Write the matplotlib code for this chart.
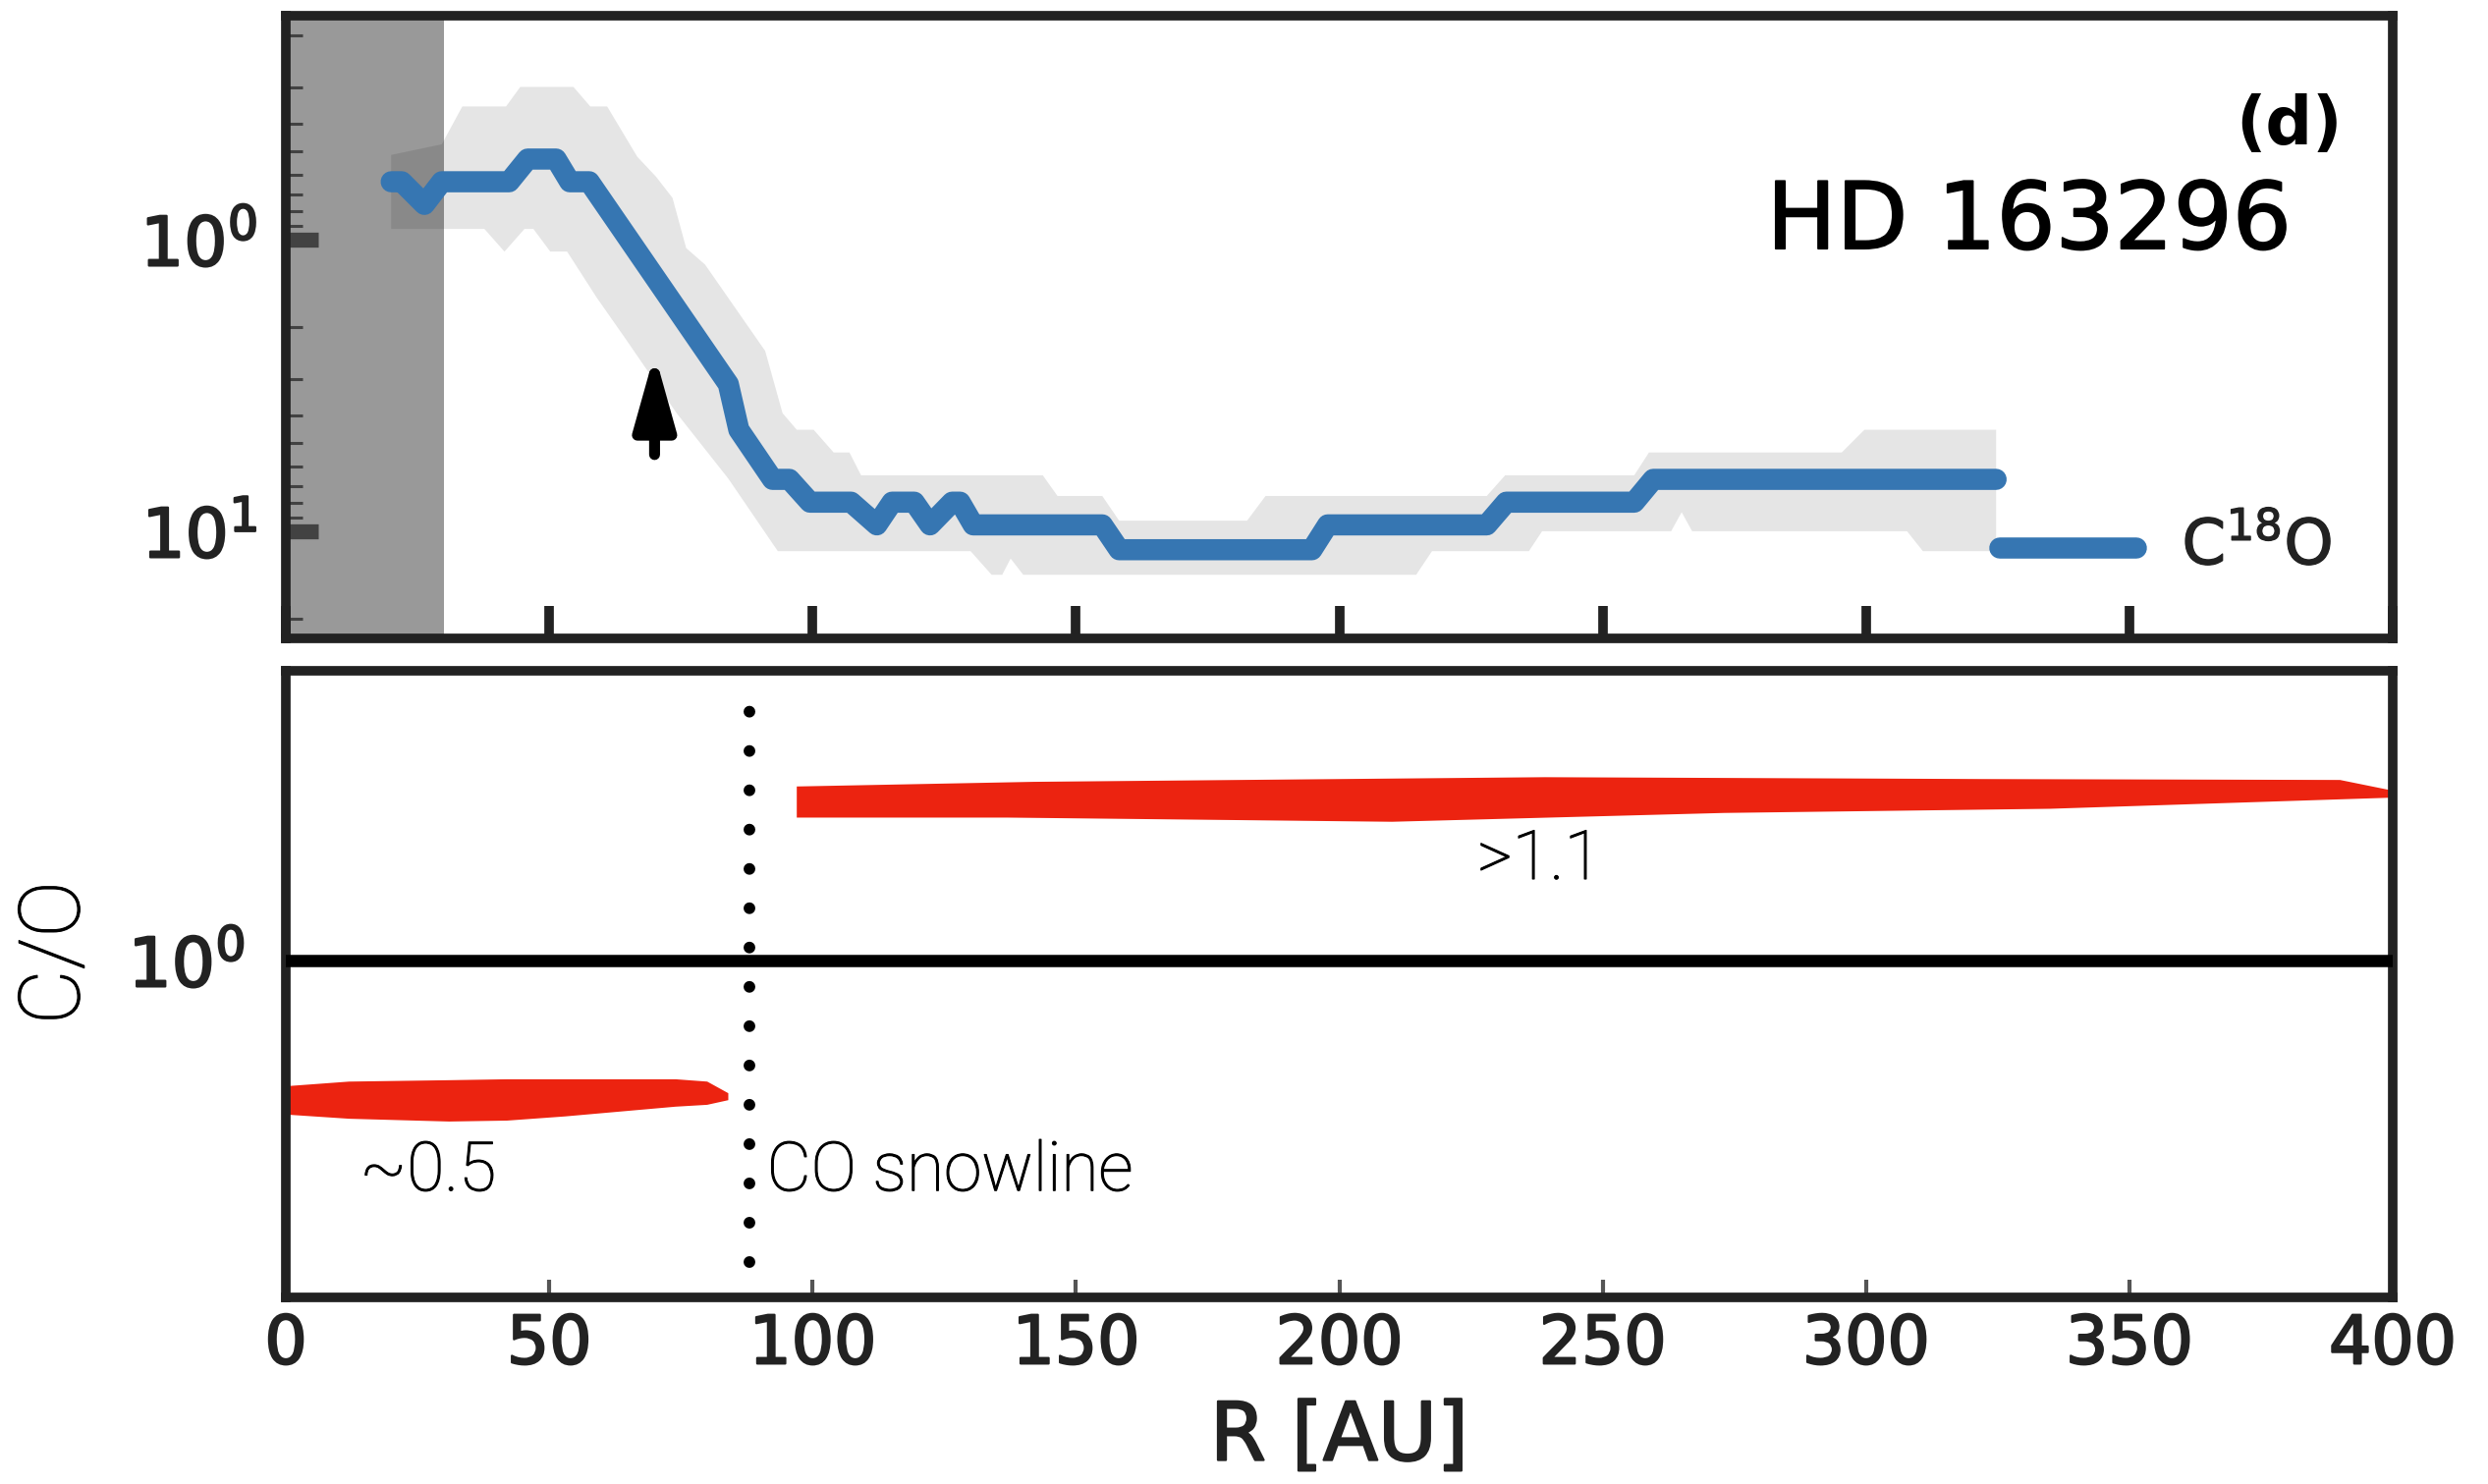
import numpy as np
import matplotlib.pyplot as plt
import matplotlib.patheffects as pe
from matplotlib.ticker import NullFormatter, NullLocator, FixedLocator

# --- C18O depletion profile (upper panel) ---
r_prof = [20, 22, 26.3, 29.6, 42.4, 45.9, 51.3, 53.9, 57.6, 84, 86, 92.4, 95.6, 99.5,
          107.3, 112.2, 115.1, 119.3, 122.3, 126.5, 128, 130.5, 155, 158.2, 194.8, 197.8,
          228, 231.7, 256, 259.6, 324.7]
v_prof = [0.634, 0.634, 0.758, 0.634, 0.634, 0.53, 0.53, 0.634, 0.634, 3.13, 4.49, 6.64, 6.64, 7.95,
          7.95, 9.51, 7.95, 7.95, 9.51, 7.95, 7.95, 9.51, 9.51, 11.57, 11.57, 9.51,
          9.51, 7.95, 7.95, 6.64, 6.64]
r_prof_out = [325.5, 351.4]
v_prof_out = [11.4, 11.4]

# uncertainty band: upper (small values) and lower (large values) edges
r_band_hi = [20, 29.6, 33.5, 41.8, 44.5, 54.6, 57.8, 61.0, 66.7, 70.3, 73.4, 76.0, 79.6, 91.0,
             94.3, 97.0, 100.2, 104, 107, 109.2, 143.7, 146.5, 155, 158.2, 182.5, 186, 228,
             231.5, 256, 258.8, 295.4, 299.7, 324.7]
v_band_hi = [0.513, 0.472, 0.35, 0.35, 0.30, 0.30, 0.35, 0.35, 0.52, 0.61, 0.72, 1.07, 1.22, 2.41,
             3.94, 4.49, 4.49, 5.37, 5.37, 6.43, 6.43, 7.57, 7.57, 9.2, 9.2, 7.57, 7.57,
             6.43, 6.43, 5.37, 5.37, 4.49, 4.49]
r_band_lo = [20, 37.7, 41.5, 45.3, 47, 50.2, 53.4, 59, 64.5, 74.2, 84, 93.4, 130, 134, 136,
             137.6, 140, 214.6, 217.6, 236, 238.5, 263, 265, 267, 307.8, 310.8, 324.7]
v_band_lo = [0.92, 0.92, 1.10, 0.92, 0.92, 1.10, 1.10, 1.58, 2.19, 3.94, 6.6, 11.7, 11.7, 14.1, 14.1,
             12.4, 14.1, 14.1, 11.7, 11.7, 10.0, 10.0, 8.6, 10.0, 10.0, 11.7, 11.7]

r_inner_gap = 30          # unresolved inner region
r_arrow = 70
v_arrow = (5.46, 2.46)    # tail, tip

# --- C/O ratio (lower panel) ---
r_snow = 88
co_in = 0.5
co_out = 2.2
# brush-stroke envelopes, offsets in dex around each level
r_in_up = [0, 12, 31, 42, 53, 74, 80, 84]
d_in_up = [0.03, 0.04, 0.043, 0.045, 0.045, 0.045, 0.04, 0.015]
r_in_lo = [0, 12, 31, 42, 53, 74, 80, 84]
d_in_lo = [-0.031, -0.04, -0.046, -0.044, -0.035, -0.014, -0.01, 0.0]
r_out_up = [97, 142, 239, 322, 390, 400]
d_out_up = [0.032, 0.042, 0.052, 0.048, 0.046, 0.023]
r_out_lo = [97, 137, 210, 273, 335, 400]
d_out_lo = [-0.035, -0.035, -0.044, -0.025, -0.016, 0.008]

xticks = list(range(0, 401, 50))

BLUE = '#3676b2'
RED = '#ec2310'
DARK = '#222222'
LIGHT = ['Roboto', 'DejaVu Sans']

plt.rcParams['font.family'] = ['DejaVu Sans']


def heavy(color, w=2.2):
    # slightly thicker glyphs than the regular weight
    return [pe.withStroke(linewidth=w, foreground=color)]


fig = plt.figure(figsize=(25.33, 15.11), dpi=100)
ax1 = fig.add_axes([0.1149, 0.5698, 0.8468, 0.4196])
ax2 = fig.add_axes([0.1149, 0.1257, 0.8468, 0.4222])

for ax in (ax1, ax2):
    for sp in ax.spines.values():
        sp.set_linewidth(7)
        sp.set_color(DARK)
    ax.set_xlim(0, 400)
    ax.set_xticks(xticks)

# upper panel
ax1.set_yscale('log')
ax1.set_ylim(23.3, 0.171)
band_x = np.concatenate([r_band_hi, r_band_lo[::-1]])
band_y = np.concatenate([v_band_hi, v_band_lo[::-1]])
ax1.fill(band_x, band_y, color='#e5e5e5', lw=0, zorder=1)
ax1.axvspan(0, r_inner_gap, color='k', alpha=0.4, lw=0, zorder=2)
ax1.plot(r_prof, v_prof, color=BLUE, lw=15.5, solid_capstyle='round',
         solid_joinstyle='round', zorder=3)
ax1.plot(r_prof_out, v_prof_out, color=BLUE, lw=15.5, solid_capstyle='round', zorder=3)
ax1.annotate('', xy=(r_arrow, v_arrow[1]), xytext=(r_arrow, v_arrow[0]),
             arrowprops=dict(arrowstyle='-|>,head_length=1.5,head_width=0.42',
                             lw=8, color='k', mutation_scale=30,
                             shrinkA=0, shrinkB=0), zorder=4)

ax1.tick_params(axis='x', which='both', direction='in', length=24, width=7,
                color=DARK, labelbottom=False)
ax1.tick_params(axis='y', which='major', direction='in', length=24, width=11,
                color='#6e6e6e', labelsize=50, labelcolor=DARK, pad=21)
ax1.tick_params(axis='y', which='minor', direction='in', length=12, width=2.2,
                color='#6e6e6e')
ax1.yaxis.set_minor_formatter(NullFormatter())

ax1.text(0.976, 0.823, '(d)', transform=ax1.transAxes, ha='right', va='center',
         fontsize=48, fontweight='bold', color='k')
ax1.text(0.8275, 0.667, 'HD 163296', transform=ax1.transAxes, ha='center',
         va='center', fontsize=68, color='k', path_effects=heavy('k', 1.3))
ax1.text(360, 13.0, 'C$^{18}$O', ha='left', va='baseline', fontsize=46, color=DARK,
         path_effects=heavy(DARK, 1.0))

# lower panel
ax2.set_yscale('log')
ax2.set_ylim(0.188, 4.2)
ax2.yaxis.set_major_locator(FixedLocator([1]))
ax2.yaxis.set_minor_locator(NullLocator())
ax2.tick_params(axis='y', length=0, labelsize=50, labelcolor=DARK, pad=30)
ax2.tick_params(axis='x', direction='in', length=13, width=3, color='#555555',
                labelsize=49, labelcolor=DARK, pad=11)

ax2.axhline(1, color='k', lw=9, zorder=3)
ax2.axvline(r_snow, ymin=0.056, ymax=0.94, color='k', lw=8.6,
            linestyle=(0, (0.001, 3.35)), dash_capstyle='round', zorder=3)


def brush(ax, r_up, d_up, r_lo, d_lo, level):
    xs = list(r_up) + list(r_lo)[::-1]
    ys = [level * 10 ** d for d in d_up] + [level * 10 ** d for d in d_lo][::-1]
    ax.fill(xs, ys, color=RED, lw=0, zorder=2)


brush(ax2, r_in_up, d_in_up, r_in_lo, d_in_lo, co_in)
brush(ax2, r_out_up, d_out_up, r_out_lo, d_out_lo, co_out)

ax2.text(27, 0.35, '~0.5', ha='center', va='center', fontsize=50,
         family=LIGHT, fontweight='light', color='k', path_effects=heavy('k', 0.8))
ax2.text(91.3, 0.35, 'CO snowline', ha='left', va='center', fontsize=50,
         family=LIGHT, fontweight='light', color='k', path_effects=heavy('k', 0.8))
ax2.text(238, 1.64, '>1.1', ha='center', va='center', fontsize=50,
         family=LIGHT, fontweight='light', color='k', path_effects=heavy('k', 0.8))

ax2.set_ylabel('C/O', fontsize=62, family=LIGHT, fontweight='light', color='k',
               va='center', path_effects=heavy('k', 0.8))
ax2.yaxis.set_label_coords(-0.109, 0.55)
ax2.set_xlabel('R [AU]', fontsize=59, color=DARK, labelpad=16,
               path_effects=heavy(DARK, 1.6))

for lab in ax1.get_yticklabels() + ax2.get_yticklabels() + ax2.get_xticklabels():
    lab.set_path_effects(heavy(DARK, 1.6))

fig.savefig('out.png', dpi=100)
